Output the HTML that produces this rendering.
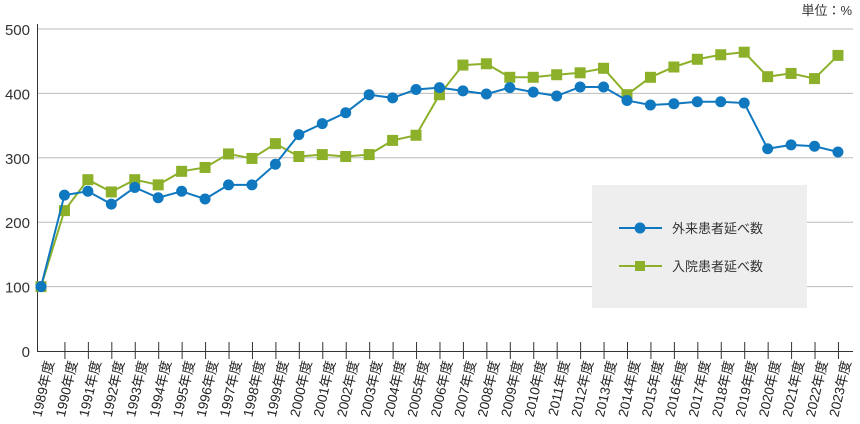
<!DOCTYPE html>
<html><head><meta charset="utf-8"><style>
body{margin:0;background:#fff;}
svg{display:block;font-family:"Liberation Sans","Noto Sans CJK JP",sans-serif;}
</style></head><body>
<svg id="c" width="860" height="424">
<text x="852" y="15" font-size="13" text-anchor="end" fill="#333">単位：%</text>
<g id="grid"></g><g id="ax"></g><g id="series"></g>
<g>
<rect x="592" y="185" width="215" height="123" fill="#eeeeee"/>
<g>
<line x1="619" y1="228" x2="662" y2="228" stroke="#0f78bf" stroke-width="2"/><circle cx="640" cy="228" r="5.5" fill="#0f78bf"/>
<text x="672" y="233" font-size="13" fill="#333">外来患者延べ数</text></g>
<g>
<line x1="619" y1="266" x2="662" y2="266" stroke="#8cb02a" stroke-width="2"/><rect x="635" y="261" width="10" height="10" fill="#8cb02a"/>
<text x="672" y="271" font-size="13" fill="#333">入院患者延べ数</text></g>
</g>
</svg>
<script>
const years=[];for(let y=1989;y<=2023;y++)years.push(y);
const outpatient=[100,242,248,228,254,238,248,236,258,258,290,336,353,370,398,393,406,409,404,399,409,402,396,410,410,389,382,384,387,387,385,314,320,318,309];
const inpatient=[100,218,266,247,266,258,279,285,306,299,322,302,305,302,305,327,335,398,444,446,425,425,429,432,439,398,425,441,453,460,464,426,431,423,459];
const yTicks=[0,100,200,300,400,500];
const NS="http://www.w3.org/2000/svg";
const X=i=>41+i*23.44, Y=v=>351-v*0.644;
function mk(t,a,p){const e=document.createElementNS(NS,t);for(const k in a)e.setAttribute(k,a[k]);p.appendChild(e);return e;}
const grid=document.getElementById('grid'),ax=document.getElementById('ax'),se=document.getElementById('series');
yTicks.forEach(v=>{
 if(v>0){const l=mk('line',{x1:38,x2:853,y1:Y(v),y2:Y(v),stroke:'#bbb','stroke-width':1},grid);
 
 }
 const t=mk('text',{x:30,y:Y(v)+6,'font-size':15,'text-anchor':'end',fill:'#333'},ax);t.textContent=v;
 
 
});
const ya=mk('line',{x1:37.5,x2:37.5,y1:24,y2:352,stroke:'#333','stroke-width':1},ax);


const xa=mk('line',{x1:37,x2:853,y1:351.5,y2:351.5,stroke:'#333','stroke-width':1},ax);


years.forEach((y,i)=>{
 if(i>0){mk('line',{x1:X(i)+0.5,x2:X(i)+0.5,y1:342,y2:359,stroke:'#333','stroke-width':1},ax);}
 const cx=X(i)+13;
 const t=mk('text',{x:cx,y:362,'font-size':13.5,'text-anchor':'end',fill:'#222',transform:`rotate(-77 ${cx} 362)`},ax);
 t.textContent=y+'年度';
 
 
});
function draw(data,col,sq,name){
 const pl=mk('polyline',{points:data.map((v,i)=>X(i)+','+Y(v)).join(' '),fill:'none',stroke:col,'stroke-width':2},se);
 
 
 data.forEach((v,i)=>{
  const m=sq?mk('rect',{x:X(i)-5.5,y:Y(v)-5.5,width:11,height:11,fill:col},se):mk('circle',{cx:X(i),cy:Y(v),r:5.5,fill:col},se);
  
  
 });
}
draw(inpatient,'#8cb02a',true,'inpatient');
draw(outpatient,'#0f78bf',false,'outpatient');
</script>
</body></html>
